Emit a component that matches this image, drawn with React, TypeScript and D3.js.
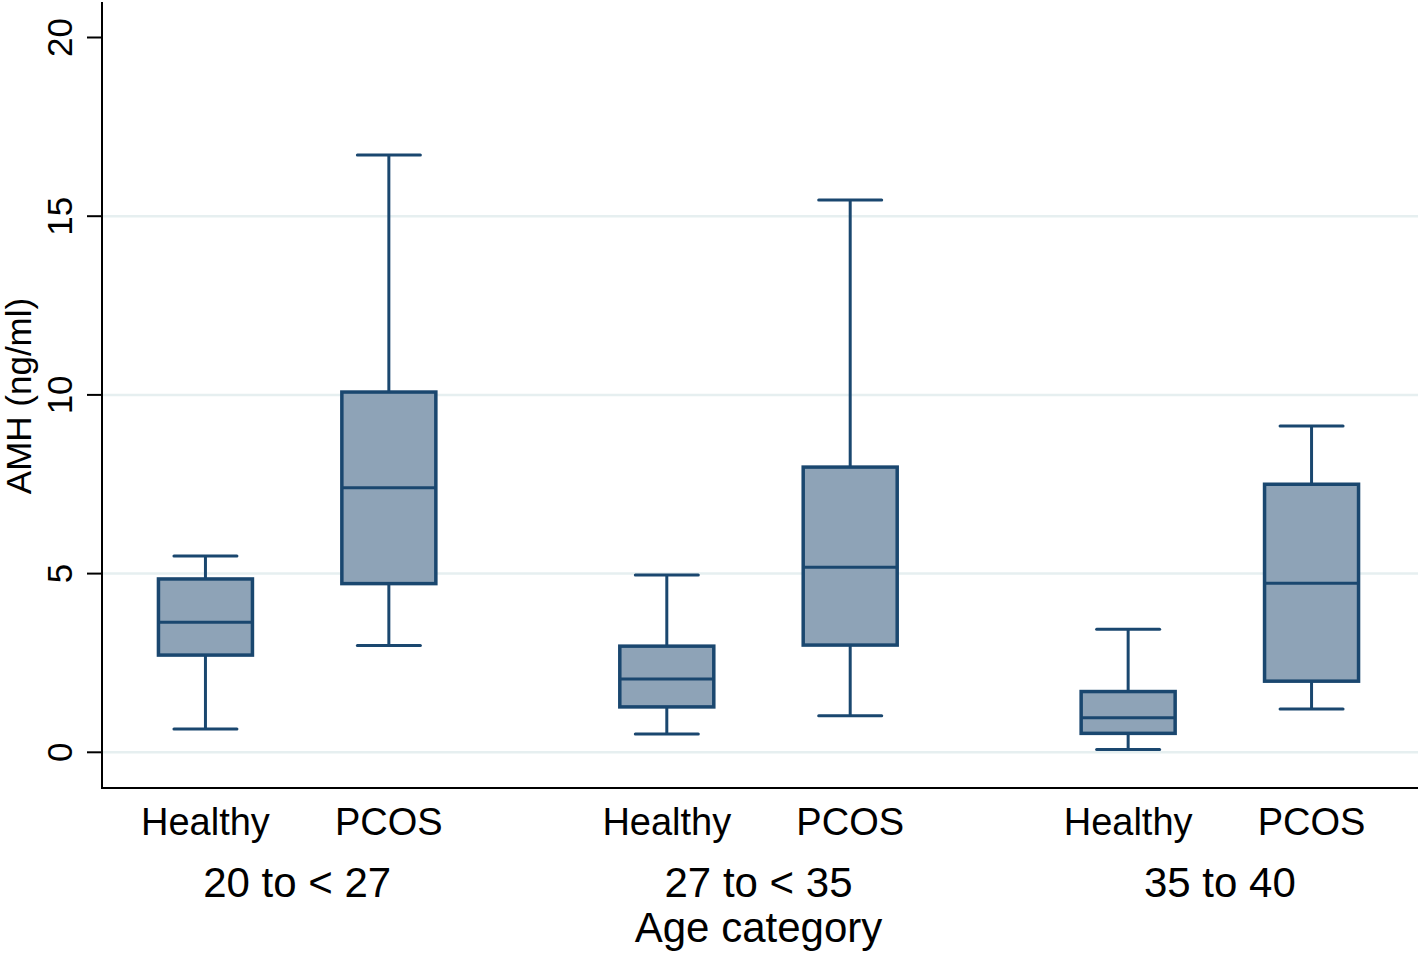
import React from "react";
import * as d3 from "d3";

// age groups and the two subgroups shown inside each one
const ageGroups = ["20 to < 27", "27 to < 35", "35 to 40"];
const subGroups = ["Healthy", "PCOS"];

// box stats, one entry per age group
const healthyStats = [
  { lo: 0.65, q1: 2.72, med: 3.64, q3: 4.85, hi: 5.49 },
  { lo: 0.51, q1: 1.27, med: 2.05, q3: 2.97, hi: 4.96 },
  { lo: 0.08, q1: 0.53, med: 0.97, q3: 1.7, hi: 3.44 },
];
const pcosStats = [
  { lo: 2.99, q1: 4.72, med: 7.4, q3: 10.08, hi: 16.71 },
  { lo: 1.02, q1: 3.0, med: 5.18, q3: 7.98, hi: 15.45 },
  { lo: 1.21, q1: 1.99, med: 4.73, q3: 7.5, hi: 9.13 },
];

const yTicks = [0, 5, 10, 15, 20];
const gridTicks = [0, 5, 10, 15];

const W = 1418;
const H = 954;
const margin = { top: 2, right: 0, bottom: 166, left: 102 };

const NAVY = "#1a476f";
const FILL = "#8ea3b7";
const GRID = "#e6eff0";
const FONT = "'Liberation Sans', Arial, sans-serif";

export default function App() {
  const axisY = H - margin.bottom; // 788

  const y = d3.scaleLinear().domain([0, 20]).range([752.3, 37.5]);

  const xGroup = d3
    .scalePoint<string>()
    .domain(ageGroups)
    .range([margin.left, 1415])
    .padding(0.423);

  const xSub = d3.scalePoint<string>().domain(subGroups).range([-91.7, 91.7]);

  const boxW = 94;
  const capW = 63;

  const boxes = ageGroups.flatMap((g, i) =>
    subGroups.map((s) => ({
      key: g + s,
      cx: (xGroup(g) as number) + (xSub(s) as number),
      st: s === "Healthy" ? healthyStats[i] : pcosStats[i],
    }))
  );

  return (
    <svg
      width={W}
      height={H}
      style={{ position: "absolute", left: 0, top: 0, background: "#fff" }}
      fontFamily={FONT}
    >
      {/* gridlines */}
      {gridTicks.map((t) => (
        <line
          key={"g" + t}
          x1={margin.left + 1}
          x2={W - margin.right}
          y1={y(t)}
          y2={y(t)}
          stroke={GRID}
          strokeWidth={2.5}
        />
      ))}

      {/* boxes */}
      {boxes.map((b) => (
        <g key={b.key} stroke={NAVY} strokeWidth={3}>
          <line x1={b.cx} x2={b.cx} y1={y(b.st.hi)} y2={y(b.st.q3)} />
          <line x1={b.cx} x2={b.cx} y1={y(b.st.q1)} y2={y(b.st.lo)} />
          <line x1={b.cx - capW / 2} x2={b.cx + capW / 2} y1={y(b.st.hi)} y2={y(b.st.hi)} strokeLinecap="round" />
          <line x1={b.cx - capW / 2} x2={b.cx + capW / 2} y1={y(b.st.lo)} y2={y(b.st.lo)} strokeLinecap="round" />
          <rect
            x={b.cx - boxW / 2}
            y={y(b.st.q3)}
            width={boxW}
            height={y(b.st.q1) - y(b.st.q3)}
            fill={FILL}
            strokeWidth={3.5}
          />
          <line x1={b.cx - boxW / 2} x2={b.cx + boxW / 2} y1={y(b.st.med)} y2={y(b.st.med)} />
        </g>
      ))}

      {/* axes */}
      <line x1={margin.left} x2={margin.left} y1={margin.top} y2={axisY + 1} stroke="#000" strokeWidth={2} />
      <line x1={margin.left - 1} x2={W} y1={axisY} y2={axisY} stroke="#000" strokeWidth={2} />

      {yTicks.map((t) => (
        <g key={"t" + t}>
          <line x1={margin.left - 15} x2={margin.left} y1={y(t)} y2={y(t)} stroke="#000" strokeWidth={2} />
          <text
            transform={`translate(72,${y(t)}) rotate(-90)`}
            textAnchor="middle"
            fontSize={35}
            fill="#000"
          >
            {t}
          </text>
        </g>
      ))}

      <text
        transform={`translate(31,396) rotate(-90)`}
        textAnchor="middle"
        fontSize={35}
        fill="#000"
      >
        AMH (ng/ml)
      </text>

      {/* x labels */}
      {boxes.map((b, i) => (
        <text key={"l" + b.key} x={b.cx} y={835} textAnchor="middle" fontSize={38} fill="#000">
          {subGroups[i % 2]}
        </text>
      ))}
      {ageGroups.map((g) => (
        <text key={"a" + g} x={xGroup(g)} y={897} textAnchor="middle" fontSize={42} fill="#000">
          {g}
        </text>
      ))}
      <text x={xGroup(ageGroups[1])} y={942} textAnchor="middle" fontSize={42} fill="#000">
        Age category
      </text>
    </svg>
  );
}
